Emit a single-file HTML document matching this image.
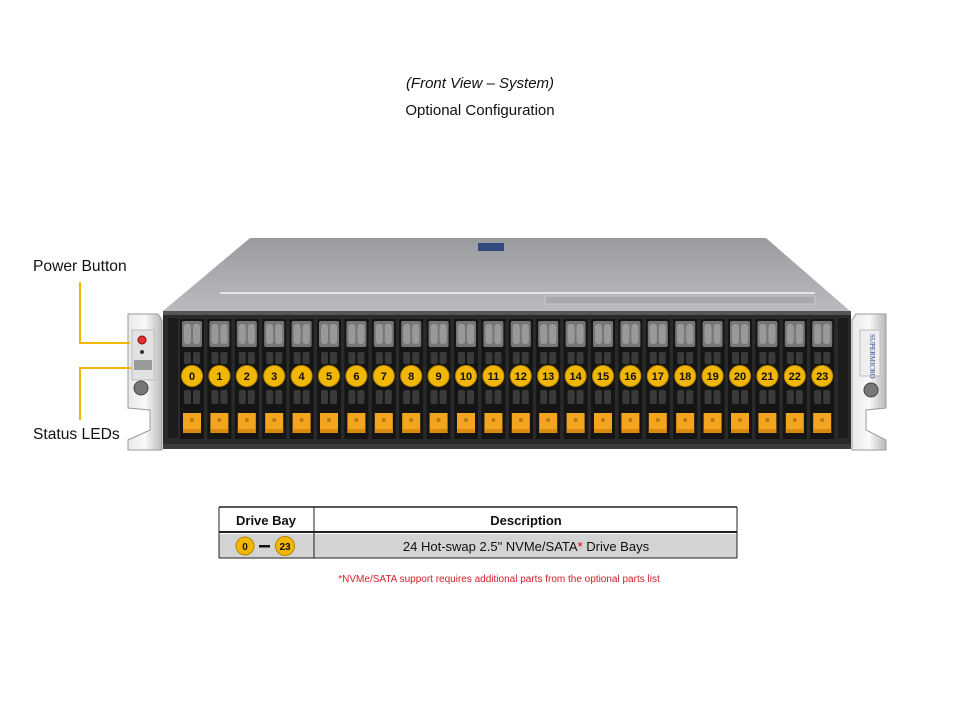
<!DOCTYPE html>
<html><head><meta charset="utf-8"><style>
html,body{margin:0;padding:0;background:#fff;}
body{width:960px;height:720px;position:relative;overflow:hidden;font-family:"Liberation Sans",Arial,sans-serif;}
.t{position:absolute;left:0;width:960px;text-align:center;color:#111;font-size:15px;}
.lbl{position:absolute;font-size:15.6px;color:#111;}
</style></head><body>
<div class="t" style="top:75px;font-style:italic;">(Front View – System)</div>
<div class="t" style="top:102px;">Optional Configuration</div>
<div class="lbl" style="left:33px;top:258px;">Power Button</div>
<div class="lbl" style="left:33px;top:426px;">Status LEDs</div>
<svg width="960" height="720" style="position:absolute;left:0;top:0" xmlns="http://www.w3.org/2000/svg">
<defs>
<linearGradient id="top" x1="0" y1="0" x2="0" y2="1"><stop offset="0" stop-color="#9a9b9f"/><stop offset="1" stop-color="#babbbe"/></linearGradient>
<linearGradient id="ear" x1="0" y1="0" x2="1" y2="0"><stop offset="0" stop-color="#e8e8e8"/><stop offset="0.5" stop-color="#fafafa"/><stop offset="1" stop-color="#b8b8b8"/></linearGradient>
<g id="bay">
<rect x="-12" y="319" width="24" height="120" fill="#151515"/>
<rect x="-10" y="321" width="20" height="26" rx="2" fill="#767676"/>
<rect x="-8" y="324" width="7" height="20" rx="3" fill="#999"/>
<rect x="1" y="324" width="7" height="20" rx="3" fill="#999"/>
<rect x="-8" y="352" width="7" height="12" rx="2" fill="#3a3a3a"/>
<rect x="1" y="352" width="7" height="12" rx="2" fill="#3a3a3a"/>
<rect x="-8" y="390" width="7" height="14" rx="2" fill="#3a3a3a"/>
<rect x="1" y="390" width="7" height="14" rx="2" fill="#3a3a3a"/>
<rect x="-9" y="413" width="18" height="20" fill="#f3a51f"/>
<rect x="-9" y="429" width="18" height="4" fill="#d88a10"/>
<circle cx="0" cy="420" r="2" fill="#b87a10"/>
<circle cx="0" cy="376" r="10.5" fill="#f2b705" stroke="#b58600" stroke-width="1"/>
</g>
</defs>
<polygon points="250,238 766,238 850,311 163,311" fill="url(#top)"/>
<g fill="#e4e4e4">
<rect x="220" y="292" width="380" height="2"/>
<rect x="535" y="292" width="280" height="2"/>
</g>
<rect x="545" y="296" width="270" height="8" fill="#a8a9ac" stroke="#c8c8c8"/>
<rect x="478" y="243" width="26" height="8" fill="#334a80"/>
<rect x="163" y="311" width="688" height="138" fill="#2a2a2a"/>
<rect x="163" y="311" width="688" height="4" fill="#555"/>
<rect x="163" y="444" width="688" height="5" fill="#3c3c3c"/>
<rect x="168" y="318" width="10" height="120" fill="#1c1c1c"/>
<rect x="838" y="318" width="10" height="120" fill="#1c1c1c"/>
<rect x="400" y="320" width="2" height="118" fill="#777"/>
<rect x="619" y="320" width="2" height="118" fill="#777"/>
<path d="M128,314 L158,314 L162,320 L162,450 L128,450 L128,440 L150,430 L150,410 L128,408 Z" fill="url(#ear)" stroke="#9a9a9a"/>
<rect x="132" y="330" width="22" height="50" fill="#e2e2e2" stroke="#bbb"/>
<circle cx="142" cy="340" r="4" fill="#d33" stroke="#900"/>
<circle cx="142" cy="352" r="2" fill="#333"/>
<rect x="134" y="360" width="18" height="10" fill="#999"/>
<circle cx="141" cy="388" r="7" fill="#777" stroke="#444"/>
<path d="M886,314 L856,314 L852,320 L852,450 L886,450 L886,440 L866,430 L866,410 L886,408 Z" fill="url(#ear)" stroke="#9a9a9a"/>
<rect x="860" y="330" width="20" height="46" fill="#eee" stroke="#bbb"/>
<text x="870" y="334" font-size="7" fill="#2a3f8f" transform="rotate(90 870 334)" font-family="Liberation Serif,serif">SUPERMICRO</text>
<circle cx="871" cy="390" r="7" fill="#777" stroke="#444"/>
<polyline points="80,282 80,343 130,343" fill="none" stroke="#f2b705" stroke-width="2"/>
<polyline points="131,368 80,368 80,420" fill="none" stroke="#f2b705" stroke-width="2"/>
<g font-family="Liberation Sans,Arial,sans-serif" font-weight="bold" font-size="11" text-anchor="middle" fill="#111">
<use href="#bay" x="192"/><use href="#bay" x="219.4"/><use href="#bay" x="246.8"/><use href="#bay" x="274.2"/><use href="#bay" x="301.6"/><use href="#bay" x="329"/><use href="#bay" x="356.4"/><use href="#bay" x="383.8"/><use href="#bay" x="411.2"/><use href="#bay" x="438.6"/><use href="#bay" x="466"/><use href="#bay" x="493.4"/><use href="#bay" x="520.8"/><use href="#bay" x="548.2"/><use href="#bay" x="575.6"/><use href="#bay" x="603"/><use href="#bay" x="630.4"/><use href="#bay" x="657.8"/><use href="#bay" x="685.2"/><use href="#bay" x="712.6"/><use href="#bay" x="740"/><use href="#bay" x="767.4"/><use href="#bay" x="794.8"/><use href="#bay" x="822.2"/>
<text x="192" y="380">0</text><text x="219.4" y="380">1</text><text x="246.8" y="380">2</text><text x="274.2" y="380">3</text><text x="301.6" y="380">4</text><text x="329" y="380">5</text><text x="356.4" y="380">6</text><text x="383.8" y="380">7</text><text x="411.2" y="380">8</text><text x="438.6" y="380">9</text><text x="466" y="380">10</text><text x="493.4" y="380">11</text><text x="520.8" y="380">12</text><text x="548.2" y="380">13</text><text x="575.6" y="380">14</text><text x="603" y="380">15</text><text x="630.4" y="380">16</text><text x="657.8" y="380">17</text><text x="685.2" y="380">18</text><text x="712.6" y="380">19</text><text x="740" y="380">20</text><text x="767.4" y="380">21</text><text x="794.8" y="380">22</text><text x="822.2" y="380">23</text>
</g>
<rect x="219" y="534" width="518" height="24" fill="#d3d3d3"/>
<line x1="219" y1="507" x2="737" y2="507" stroke="#222" stroke-width="1.5"/>
<line x1="219" y1="532" x2="737" y2="532" stroke="#222" stroke-width="2"/>
<line x1="219" y1="558" x2="737" y2="558" stroke="#222" stroke-width="1"/>
<line x1="219" y1="507" x2="219" y2="558" stroke="#222"/>
<line x1="737" y1="507" x2="737" y2="558" stroke="#222"/>
<line x1="314" y1="507" x2="314" y2="558" stroke="#222"/>
<g font-family="Liberation Sans,Arial,sans-serif" text-anchor="middle">
<text x="266" y="525" font-size="13" font-weight="bold" fill="#111">Drive Bay</text>
<text x="526" y="525" font-size="13" font-weight="bold" fill="#111">Description</text>
<circle cx="245" cy="546" r="9" fill="#f2b705" stroke="#b58600"/>
<text x="245" y="550" font-size="10" font-weight="bold" fill="#111">0</text>
<rect x="259" y="545" width="11" height="2.5" fill="#111"/>
<circle cx="285" cy="546" r="9.5" fill="#f2b705" stroke="#b58600"/>
<text x="285" y="550" font-size="10" font-weight="bold" fill="#111">23</text>
<text x="526" y="551" font-size="13" fill="#111">24 Hot-swap 2.5" NVMe/SATA<tspan fill="#d00">*</tspan> Drive Bays</text>
<text x="499" y="582" font-size="10" fill="#d0202a">*NVMe/SATA support requires additional parts from the optional parts list</text>
</g>
</svg>
</body></html>
